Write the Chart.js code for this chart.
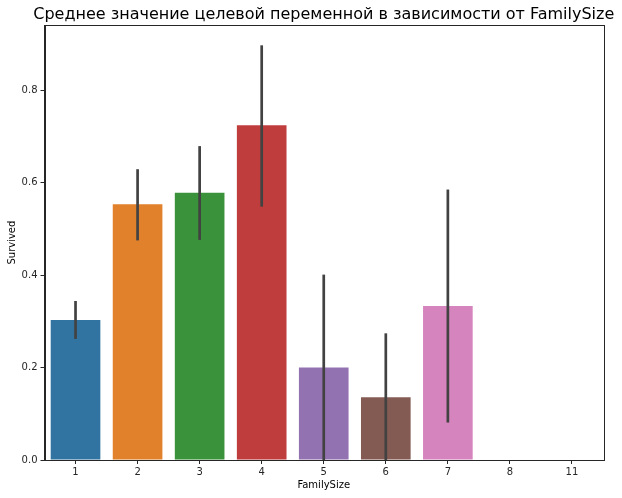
<!DOCTYPE html>
<html>
<head>
<meta charset="utf-8">
<script src="https://cdn.jsdelivr.net/npm/chart.js@4.4.0/dist/chart.umd.min.js"></script>
<style>
html,body{margin:0;padding:0;background:#fff;}
#wrap{width:622px;height:498px;}
</style>
</head>
<body>
<div id="wrap"><canvas id="c" width="622" height="498"></canvas></div>
<script>
const categories = ['1','2','3','4','5','6','7','8','11'];
const survivedMean = [0.303, 0.553, 0.578, 0.724, 0.200, 0.136, 0.333, 0, 0];
const ciLow = [0.262, 0.475, 0.476, 0.548, 0, 0, 0.081, null, null];
const ciHigh = [0.344, 0.629, 0.679, 0.897, 0.401, 0.274, 0.585, null, null];
const yTicks = [0, 0.2, 0.4, 0.6, 0.8];
const barColors = ['#3274a1','#e1812c','#3a923a','#c03d3e','#9372b2','#845b53','#d684bd','#7f7f7f','#a9aa35'];

Chart.defaults.font.family = 'DejaVu Sans';
Chart.defaults.color = '#262626';

const errorBars = {
  id: 'errorBars',
  afterDatasetsDraw(chart) {
    const ctx = chart.ctx, xs = chart.scales.x, ys = chart.scales.y;
    ctx.save();
    ctx.strokeStyle = '#424242';
    ctx.lineWidth = 2.7;
    ctx.lineCap = 'butt';
    categories.forEach((c, i) => {
      if (ciLow[i] == null) return;
      const x = xs.getPixelForValue(i);
      ctx.beginPath();
      ctx.moveTo(x, ys.getPixelForValue(ciLow[i]));
      ctx.lineTo(x, ys.getPixelForValue(ciHigh[i]));
      ctx.stroke();
    });
    ctx.restore();
  }
};
const frame = {
  id: 'frame',
  afterDraw(chart) {
    const a = chart.chartArea, ctx = chart.ctx;
    ctx.save();
    ctx.strokeStyle = '#262626';
    ctx.lineWidth = 1;
    ctx.strokeRect(Math.round(a.left) + 0.5, Math.round(a.top) + 0.5, Math.round(a.right - a.left), Math.round(a.bottom - a.top));
    ctx.restore();
  }
};
const centerTitle = {
  id: 'centerTitle',
  afterLayout(chart) {
    const t = chart.titleBlock, a = chart.chartArea;
    if (t) {
      const cx = (a.left + a.right) / 2, half = 310;
      t.left = cx - half; t.right = cx + half; t.width = 2 * half;
    }
  }
};

new Chart(document.getElementById('c'), {
  type: 'bar',
  data: {
    labels: categories,
    datasets: [{
      label: 'Survived',
      data: survivedMean,
      backgroundColor: barColors,
      borderWidth: 0,
      categoryPercentage: 0.8,
      barPercentage: 1.0
    }]
  },
  options: {
    responsive: false,
    animation: false,
    devicePixelRatio: 1,
    layout: { padding: { top: 0, right: 19, bottom: 0, left: 0 } },
    plugins: {
      legend: { display: false },
      tooltip: { enabled: false },
      title: {
        display: true,
        text: 'Среднее значение целевой переменной в зависимости от FamilySize',
        font: { size: 16, weight: 'normal', family: 'DejaVu Sans' },
        color: '#000',
        padding: { top: 5, bottom: 1 }
      }
    },
    scales: {
      x: {
        grid: { drawOnChartArea: false, offset: false, tickLength: 4, tickColor: '#262626' },
        border: { display: true, color: '#262626' },
        ticks: { font: { size: 10 }, color: '#262626', padding: 2, maxRotation: 0 },
        title: { display: true, text: 'FamilySize', font: { size: 10 }, color: '#000', padding: { top: 0, bottom: 7 } },
        afterFit(s) { s.height = 38; }
      },
      y: {
        min: 0,
        max: 0.9405,
        grid: { drawOnChartArea: false, tickLength: 4, tickColor: '#262626' },
        border: { display: true, color: '#262626' },
        afterBuildTicks(s) { s.ticks = yTicks.map(v => ({ value: v })); },
        ticks: { font: { size: 10 }, color: '#262626', padding: 3, callback: v => Number(v).toFixed(1) },
        title: { display: true, text: 'Survived', font: { size: 10 }, color: '#000', padding: { top: 6, bottom: 0 } },
        afterFit(s) { s.width = 44.5; }
      }
    }
  },
  plugins: [centerTitle, errorBars, frame]
});
</script>
</body>
</html>
